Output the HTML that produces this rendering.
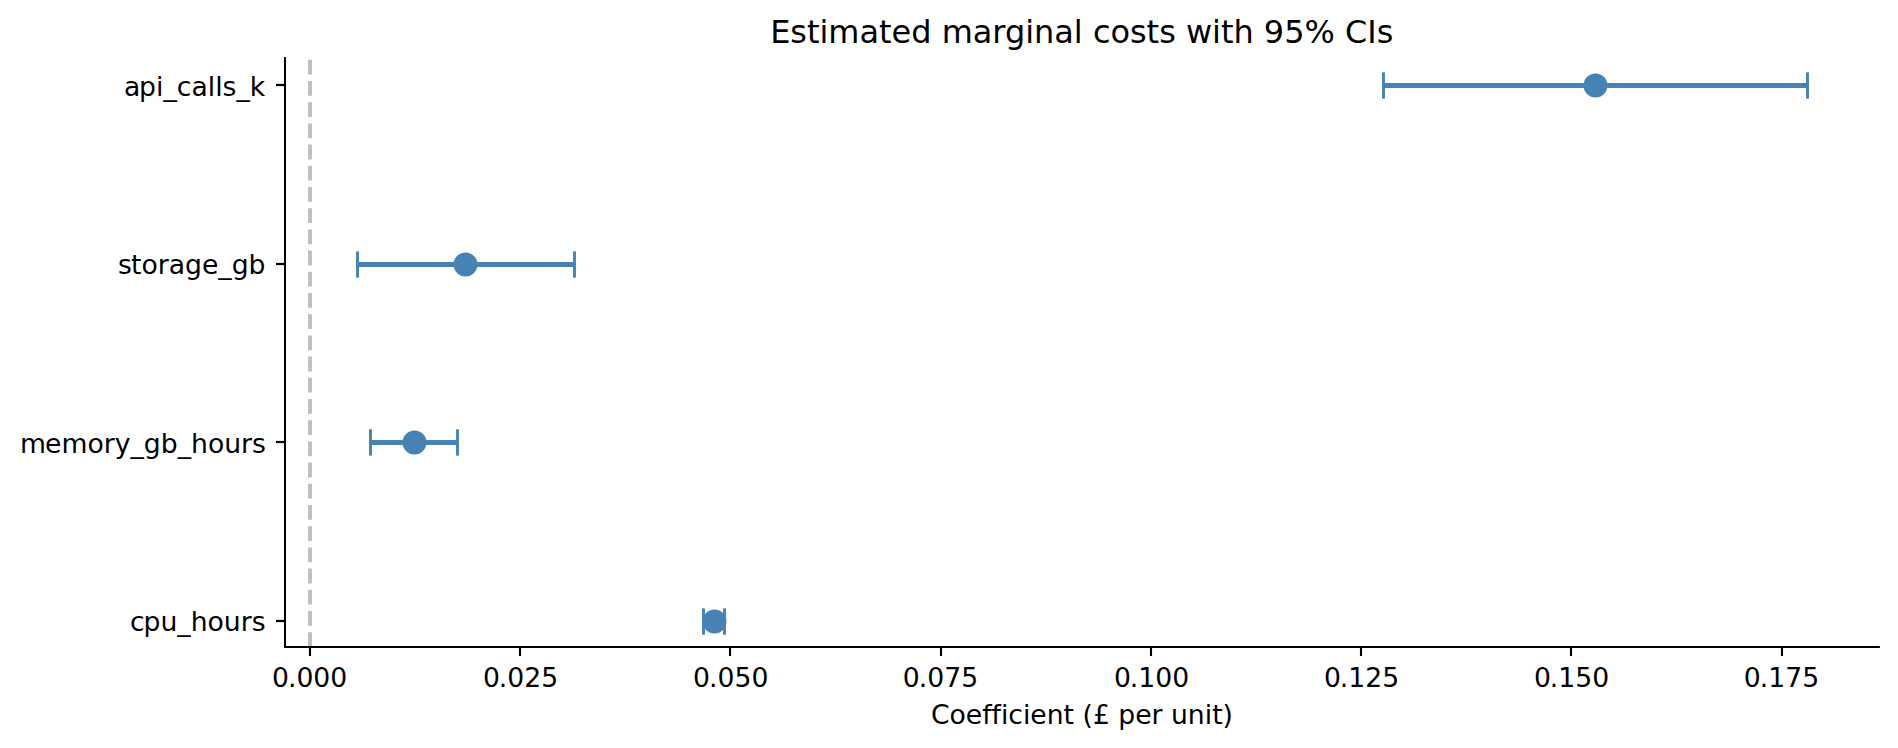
<!DOCTYPE html>
<html lang="en"><head><meta charset="utf-8"><title>Estimated marginal costs with 95% CIs</title>
<style>
html,body{margin:0;padding:0;background:#fff;}
body{width:1898px;height:748px;overflow:hidden;}
svg{display:block;}
text{font-family:"DejaVu Sans","Liberation Sans",sans-serif;fill:#000;font-variant-ligatures:none;font-feature-settings:"liga" 0,"clig" 0;}
</style></head><body>
<svg width="1898" height="748" viewBox="0 0 1898 748">
<rect width="1898" height="748" fill="#fff"/>
<line x1="310" y1="647.0" x2="310" y2="58.8" stroke="#bfbfbf" stroke-width="4" stroke-dasharray="14.8 6.4"/>
<line x1="1383.5" y1="85.5" x2="1807.5" y2="85.5" stroke="#4682b4" stroke-width="5.1"/>
<line x1="1383.5" y1="72.35" x2="1383.5" y2="98.65" stroke="#4682b4" stroke-width="2.9"/>
<line x1="1807.5" y1="72.35" x2="1807.5" y2="98.65" stroke="#4682b4" stroke-width="2.9"/>
<circle cx="1595.5" cy="85.5" r="12" fill="#4682b4"/>
<line x1="357.5" y1="264.5" x2="574.5" y2="264.5" stroke="#4682b4" stroke-width="5.1"/>
<line x1="357.5" y1="251.35" x2="357.5" y2="277.65" stroke="#4682b4" stroke-width="2.9"/>
<line x1="574.5" y1="251.35" x2="574.5" y2="277.65" stroke="#4682b4" stroke-width="2.9"/>
<circle cx="465.5" cy="264.5" r="12" fill="#4682b4"/>
<line x1="370.5" y1="442.5" x2="457.5" y2="442.5" stroke="#4682b4" stroke-width="5.1"/>
<line x1="370.5" y1="429.35" x2="370.5" y2="455.65" stroke="#4682b4" stroke-width="2.9"/>
<line x1="457.5" y1="429.35" x2="457.5" y2="455.65" stroke="#4682b4" stroke-width="2.9"/>
<circle cx="414.5" cy="442.5" r="12" fill="#4682b4"/>
<line x1="703.5" y1="621.5" x2="724.5" y2="621.5" stroke="#4682b4" stroke-width="5.1"/>
<line x1="703.5" y1="608.35" x2="703.5" y2="634.65" stroke="#4682b4" stroke-width="2.9"/>
<line x1="724.5" y1="608.35" x2="724.5" y2="634.65" stroke="#4682b4" stroke-width="2.9"/>
<circle cx="714.5" cy="621.5" r="12" fill="#4682b4"/>
<line x1="285.0" y1="57" x2="285.0" y2="648.0" stroke="#000" stroke-width="2.0"/>
<line x1="284.0" y1="647.0" x2="1879.87" y2="647.0" stroke="#000" stroke-width="2.0"/>
<line x1="276" y1="85.0" x2="285.0" y2="85.0" stroke="#000" stroke-width="2.2"/>
<text x="124.05 139.08" y="96.0" font-size="26.67">api_calls_k</text>
<line x1="276" y1="264.0" x2="285.0" y2="264.0" stroke="#000" stroke-width="2.2"/>
<text x="118.06 130.99" y="274.0" font-size="26.67">storage_gb</text>
<line x1="276" y1="442.0" x2="285.0" y2="442.0" stroke="#000" stroke-width="2.2"/>
<text x="19.97 45.08" y="453.0" font-size="26.67">memory_gb_hours</text>
<line x1="276" y1="621.0" x2="285.0" y2="621.0" stroke="#000" stroke-width="2.2"/>
<text x="130.00 143.49" y="631.0" font-size="26.67">cpu_hours</text>
<line x1="310" y1="647.0" x2="310" y2="656.0" stroke="#000" stroke-width="2.1"/>
<text x="272.02" dx="0 -1.05" y="686.6" font-size="26.67">0.000</text>
<line x1="520" y1="647.0" x2="520" y2="656.0" stroke="#000" stroke-width="2.1"/>
<text x="482.92" dx="0 -1.05" y="686.6" font-size="26.67">0.025</text>
<line x1="730" y1="647.0" x2="730" y2="656.0" stroke="#000" stroke-width="2.1"/>
<text x="693.07" dx="0 -1.05" y="686.6" font-size="26.67">0.050</text>
<line x1="941" y1="647.0" x2="941" y2="656.0" stroke="#000" stroke-width="2.1"/>
<text x="902.87" dx="0 -1.05" y="686.6" font-size="26.67">0.075</text>
<line x1="1151" y1="647.0" x2="1151" y2="656.0" stroke="#000" stroke-width="2.1"/>
<text x="1113.92" dx="0 -1.05" y="686.6" font-size="26.67">0.100</text>
<line x1="1361" y1="647.0" x2="1361" y2="656.0" stroke="#000" stroke-width="2.1"/>
<text x="1323.92" dx="0 -1.05" y="686.6" font-size="26.67">0.125</text>
<line x1="1571" y1="647.0" x2="1571" y2="656.0" stroke="#000" stroke-width="2.1"/>
<text x="1533.92" dx="0 -1.05" y="686.6" font-size="26.67">0.150</text>
<line x1="1782" y1="647.0" x2="1782" y2="656.0" stroke="#000" stroke-width="2.1"/>
<text x="1743.87" dx="0 -1.05" y="686.6" font-size="26.67">0.175</text>
<text x="1081.75" y="43" font-size="31.95" text-anchor="middle">Estimated marginal costs with 95% CIs</text>
<text x="1081.95" y="723.5" font-size="26.643" text-anchor="middle">Coefficient (£ per unit)</text>
</svg></body></html>
